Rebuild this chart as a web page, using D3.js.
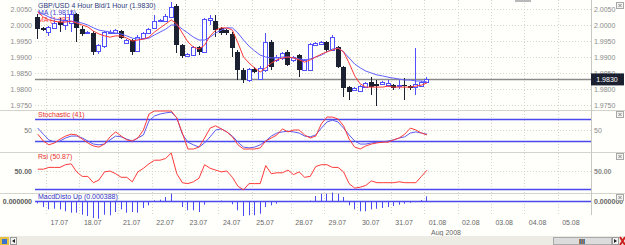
<!DOCTYPE html>
<html>
<head>
<meta charset="utf-8">
<script src="https://cdn.jsdelivr.net/npm/d3@7"></script>
<style>
body { margin: 0; background: #fffffb; }
svg { display: block; font-family: "Liberation Sans", Arial, sans-serif; }
</style>
</head>
<body>
<div id="chart"></div>
<script>
// GBP/USD 4 hour candles, 16.07 16:00 .. 01.08 00:00
const opens = [2.0025,1.9991,1.9978,1.9991,2.0009,2.0000,2.0006,2.0034,1.9987,1.9975,
  1.9975,1.9919,1.9934,1.9975,1.9975,1.9981,1.9944,1.9953,1.9919,1.9959,
  1.9975,1.9991,2.0012,2.0012,2.0025,2.0059,1.9937,1.9903,1.9906,1.9931,
  1.9916,2.0016,2.0012,1.9991,1.9984,1.9972,1.9916,1.9859,1.9828,1.9862,
  1.9831,1.9859,1.9947,1.9891,1.9897,1.9916,1.9891,1.9906,1.9859,1.9859,
  1.9937,1.9941,1.9947,1.9922,1.9931,1.9869,1.9806,1.9797,1.9794,1.9806,
  1.9822,1.9816,1.9816,1.9812,1.9812,1.9809,1.9812,1.9809,1.9806,1.9809,
  1.9822];
const highs = [2.0034,1.9994,1.9997,2.0016,2.0022,2.0034,2.0044,2.0037,1.9997,1.9981,
  1.9981,1.9941,1.9981,1.9984,1.9987,1.9984,1.9956,1.9956,1.9969,1.9978,
  1.9991,2.0031,2.0019,2.0034,2.0072,2.0066,1.9941,1.9912,1.9934,1.9934,
  2.0022,2.0031,2.0031,1.9994,1.9987,1.9978,1.9922,1.9866,1.9866,1.9869,
  1.9872,1.9975,1.9953,1.9906,1.9916,1.9922,1.9903,1.9909,1.9894,1.9944,
  1.9947,1.9950,1.9950,1.9969,1.9934,1.9872,1.9809,1.9806,1.9812,1.9822,
  1.9837,1.9828,1.9825,1.9828,1.9816,1.9828,1.9834,1.9812,1.9928,1.9825,
  1.9837];
const lows = [1.9956,1.9981,1.9966,1.9987,1.9978,1.9984,1.9978,1.9947,1.9966,1.9972,
  1.9906,1.9909,1.9928,1.9972,1.9972,1.9956,1.9941,1.9906,1.9916,1.9956,
  1.9972,1.9987,2.0009,2.0009,2.0022,1.9912,1.9897,1.9900,1.9903,1.9906,
  1.9912,2.0000,1.9962,1.9969,1.9969,1.9900,1.9828,1.9819,1.9822,1.9850,
  1.9828,1.9853,1.9859,1.9884,1.9891,1.9872,1.9884,1.9837,1.9856,1.9856,
  1.9934,1.9937,1.9916,1.9919,1.9866,1.9775,1.9766,1.9794,1.9791,1.9803,
  1.9781,1.9747,1.9812,1.9806,1.9797,1.9800,1.9766,1.9797,1.9781,1.9806,
  1.9819];
const closes = [1.9987,1.9984,1.9994,2.0006,2.0000,2.0016,2.0034,1.9991,1.9972,1.9978,
  1.9916,1.9937,1.9978,1.9978,1.9984,1.9959,1.9953,1.9916,1.9962,1.9975,
  1.9987,2.0012,2.0016,2.0028,2.0056,1.9937,1.9903,1.9909,1.9931,1.9916,
  2.0019,2.0022,1.9984,1.9975,1.9975,1.9928,1.9859,1.9828,1.9862,1.9853,
  1.9866,1.9947,1.9869,1.9900,1.9912,1.9875,1.9900,1.9859,1.9891,1.9941,
  1.9944,1.9947,1.9922,1.9962,1.9869,1.9803,1.9791,1.9803,1.9809,1.9819,
  1.9806,1.9809,1.9822,1.9819,1.9803,1.9812,1.9809,1.9803,1.9816,1.9822,
  1.9830];

const maFast = [2.0041,2.0025,2.0016,2.0012,2.0009,2.0009,2.0012,2.0006,2.0000,1.9994,
  1.9981,1.9972,1.9966,1.9962,1.9966,1.9966,1.9959,1.9950,1.9953,1.9956,
  1.9962,1.9978,1.9991,2.0003,2.0016,2.0003,1.9975,1.9947,1.9931,1.9925,
  1.9937,1.9966,1.9984,1.9991,1.9991,1.9984,1.9944,1.9900,1.9881,1.9866,
  1.9853,1.9866,1.9881,1.9891,1.9897,1.9900,1.9897,1.9891,1.9884,1.9891,
  1.9900,1.9909,1.9916,1.9922,1.9928,1.9916,1.9881,1.9841,1.9816,1.9806,
  1.9806,1.9806,1.9806,1.9809,1.9806,1.9806,1.9806,1.9806,1.9809,1.9812,
  1.9819];
const maSlow = [2.0041,2.0034,2.0025,2.0019,2.0016,2.0012,2.0012,2.0009,2.0006,2.0000,
  1.9991,1.9984,1.9981,1.9978,1.9975,1.9972,1.9966,1.9959,1.9956,1.9956,
  1.9959,1.9969,1.9978,1.9987,2.0000,2.0000,1.9987,1.9975,1.9962,1.9953,
  1.9953,1.9962,1.9975,1.9984,1.9991,1.9991,1.9975,1.9953,1.9934,1.9919,
  1.9906,1.9900,1.9897,1.9897,1.9900,1.9900,1.9897,1.9894,1.9891,1.9894,
  1.9900,1.9906,1.9916,1.9925,1.9928,1.9916,1.9897,1.9878,1.9866,1.9856,
  1.9850,1.9844,1.9841,1.9837,1.9834,1.9831,1.9828,1.9828,1.9825,1.9825,
  1.9822];

const stochK = [39,21,11,16,26,34,39,37,26,16,
  8,5,13,32,45,34,24,21,29,50,
  92,100,100,100,100,82,42,0,0,5,
  29,55,61,53,45,32,11,0,0,0,
  3,21,29,37,53,45,50,50,37,29,
  34,66,84,84,79,61,26,5,0,8,
  13,16,18,18,24,29,39,55,50,42,
  37];
const stochD = [55,39,24,18,21,29,34,34,29,21,
  13,11,13,24,34,32,26,21,29,37,
  74,87,92,95,97,82,39,18,11,5,
  16,32,50,53,45,34,18,5,3,5,
  11,21,34,42,45,47,45,42,34,32,
  37,55,71,76,71,55,37,21,13,13,
  16,18,18,21,24,29,32,42,45,42,
  39];

const rsi = [52,52,54,54,54,57,58,49,44,44,
  37,40,49,50,47,43,43,38,49,53,
  58,62,62,64,70,47,37,36,38,42,
  57,53,51,49,50,43,33,29,36,36,
  36,56,47,48,48,51,46,49,43,44,
  55,57,57,54,54,49,36,31,32,34,
  39,37,37,37,37,38,37,37,37,44,
  50.87];

const macdHist = [-0.00020,-0.00050,-0.00069,-0.00064,-0.00069,-0.00085,-0.00097,-0.00097,-0.00113,-0.00124,
  -0.00140,-0.00146,-0.00113,-0.00118,-0.00091,-0.00069,-0.00097,-0.00091,-0.00097,-0.00058,
  -0.00036,0.00005,0.00011,0.00033,0.00060,-0.00005,-0.00050,-0.00077,-0.00077,-0.00091,
  -0.00031,-0.00008,-0.00003,0.00003,-0.00003,-0.00027,-0.00077,-0.00124,-0.00118,-0.00118,
  -0.00105,-0.00050,-0.00036,-0.00022,-0.00008,-0.00003,-0.00003,-0.00008,-0.00003,0.00003,
  0.00041,0.00060,0.00060,0.00069,0.00060,0.00033,-0.00036,-0.00069,-0.00085,-0.00085,
  -0.00069,-0.00064,-0.00058,-0.00050,-0.00041,-0.00031,-0.00022,-0.00014,-0.00003,0.00008,
  0.000388];

const dayLabels = ["17.07","18.07","21.07","22.07","23.07","24.07","25.07","28.07","29.07","30.07","31.07","01.08","02.08","03.08","04.08","05.08"];
const dayStarts = [2,8,15,21,27,33,39,46,52,58,64,70,76,82,88,94];
const priceTicks = [1.9750,1.9800,1.9850,1.9900,1.9950,2.0000,2.0050];
const stochLevels = [20,80];
const lastPrice = 1.9830;

const width = 625, height = 245;
const left = 35, right = 591;
const GRID = "#d6d6c8", RED = "#ff3a3a", BLUE = "#4a4aee", BEAR = "#1b2130";

let svg = d3.select("#chart").append("svg").attr("width", width).attr("height", height);
svg.append("rect").attr("width", width).attr("height", height).attr("fill", "#fffffb");

let x = d3.scaleLinear().domain([0, 100]).range([left, right]);
let yPrice = d3.scaleLinear().domain([1.9750, 2.0050]).range([105, 9]);
let yStoch = d3.scaleLinear().domain([0, 100]).range([149, 111]);
let yRsi = d3.scaleLinear().domain([30, 50]).range([189, 171]);
let yMacd = d3.scaleLinear().domain([-0.001, 0.001]).range([213.1, 188.9]);

const cx = i => Math.floor(x(i + 0.5)) + 0.5;
const crisp = v => Math.round(v) + 0.5;

// dotted grid
let grid = svg.append("g").attr("stroke", GRID).attr("stroke-dasharray", "1,2");
grid.selectAll("line.h").data(priceTicks).join("line")
  .attr("x1", left).attr("x2", right)
  .attr("y1", d => crisp(yPrice(d))).attr("y2", d => crisp(yPrice(d)));
grid.append("line").attr("x1", left).attr("x2", right).attr("y1", crisp(yStoch(50))).attr("y2", crisp(yStoch(50)));
grid.append("line").attr("x1", left).attr("x2", right).attr("y1", crisp(yRsi(50))).attr("y2", crisp(yRsi(50)));
grid.selectAll("line.v").data(dayStarts).join("line")
  .attr("x1", d => crisp(x(d))).attr("x2", d => crisp(x(d)))
  .attr("y1", 0).attr("y2", 215);

// panel separators and right axis line
svg.selectAll("line.sep").data([110, 152, 193]).join("line")
  .attr("x1", 0).attr("x2", width).attr("y1", d => d + 0.5).attr("y2", d => d + 0.5)
  .attr("stroke", "#d4d4cc");
svg.append("line").attr("x1", right + 0.5).attr("x2", right + 0.5).attr("y1", 0).attr("y2", 215).attr("stroke", "#c8c8c0");

// panel captions
svg.append("text").attr("x", 38).attr("y", 8).attr("font-size", 7).attr("fill", "#2c3a80").text("GBP/USD 4 Hour Bid/1 Hour (1.9830)");
svg.append("text").attr("x", 38).attr("y", 15).attr("font-size", 7).attr("fill", "#4444cc").text("MA (1.9815)");
svg.append("text").attr("x", 38).attr("y", 22).attr("font-size", 7).attr("fill", RED).text("MA (1.9821)");
svg.append("text").attr("x", 38).attr("y", 117).attr("font-size", 7).attr("fill", "#e83030").text("Stochastic (41)");
svg.append("text").attr("x", 38).attr("y", 159).attr("font-size", 7).attr("fill", "#e83030").text("Rsi (50.87)");
svg.append("text").attr("x", 38).attr("y", 199).attr("font-size", 7).attr("fill", "#3030c8").text("MacdDisto Up (0.000388)");

// last price line
svg.append("line").attr("x1", left).attr("x2", right)
  .attr("y1", yPrice(lastPrice)).attr("y2", yPrice(lastPrice))
  .attr("stroke", "#8a8a8a").attr("stroke-width", 1.5);

// candles
let candles = d3.range(opens.length).map(i => ({i: i, o: opens[i], h: highs[i], l: lows[i], c: closes[i], up: closes[i] >= opens[i]}));
let cg = svg.append("g");
cg.selectAll("line").data(candles).join("line")
  .attr("x1", d => cx(d.i)).attr("x2", d => cx(d.i))
  .attr("y1", d => Math.round(yPrice(d.h))).attr("y2", d => Math.round(yPrice(d.l)))
  .attr("stroke", d => d.up ? "#5050ff" : BEAR);
cg.selectAll("rect").data(candles).join("rect")
  .attr("x", d => d.up ? cx(d.i) - 2 : cx(d.i) - 2.5)
  .attr("width", d => d.up ? 4 : 5)
  .attr("y", d => d.up ? crisp(yPrice(d.c)) : Math.round(yPrice(d.o)))
  .attr("height", d => Math.max(1, Math.round(Math.abs(yPrice(d.o) - yPrice(d.c)))))
  .attr("fill", d => d.up ? "#ffffff" : BEAR)
  .attr("stroke", d => d.up ? "#5050ff" : "none");

let maLine = d3.line().x((d, i) => x(i + 0.5)).y(d => yPrice(d));
svg.append("path").attr("d", maLine(maSlow)).attr("fill", "none").attr("stroke", "#6060ff").attr("stroke-width", 1);
svg.append("path").attr("d", maLine(maFast)).attr("fill", "none").attr("stroke", RED).attr("stroke-width", 1);

// stochastic
svg.selectAll("line.lvl").data(stochLevels).join("line")
  .attr("x1", left).attr("x2", right).attr("y1", d => crisp(yStoch(d))).attr("y2", d => crisp(yStoch(d)))
  .attr("stroke", BLUE).attr("stroke-width", 1.5);
let stLine = d3.line().x((d, i) => x(i + 0.5)).y(d => yStoch(d));
svg.append("path").attr("d", stLine(stochD)).attr("fill", "none").attr("stroke", "#5a5af0");
svg.append("path").attr("d", stLine(stochK)).attr("fill", "none").attr("stroke", RED);

// rsi
svg.append("line").attr("x1", left).attr("x2", right).attr("y1", crisp(yRsi(30))).attr("y2", crisp(yRsi(30)))
  .attr("stroke", BLUE).attr("stroke-width", 1.5);
let rsiLine = d3.line().x((d, i) => x(i + 0.5)).y(d => yRsi(d));
svg.append("path").attr("d", rsiLine(rsi)).attr("fill", "none").attr("stroke", RED);

// macd histogram
svg.append("line").attr("x1", left).attr("x2", right).attr("y1", crisp(yMacd(0))).attr("y2", crisp(yMacd(0)))
  .attr("stroke", BLUE).attr("stroke-width", 1.5);
svg.append("g").selectAll("line").data(macdHist).join("line")
  .attr("x1", (d, i) => cx(i)).attr("x2", (d, i) => cx(i))
  .attr("y1", yMacd(0)).attr("y2", d => yMacd(d))
  .attr("stroke", "#4a4af5");

// axes
function styleAxis(g, color, weight) {
  g.select(".domain").remove();
  g.selectAll("text").attr("font-size", 7).attr("fill", color).attr("font-weight", weight || "normal")
    .attr("font-family", "'Liberation Sans', Arial, sans-serif");
}
svg.append("g").attr("transform", `translate(${left - 1},0)`)
  .call(d3.axisLeft(yPrice).tickValues(priceTicks).tickFormat(d3.format(".4f")).tickSize(0).tickPadding(2))
  .call(g => styleAxis(g, "#8a8a8a"));
svg.append("g").attr("transform", `translate(${right + 1},0)`)
  .call(d3.axisRight(yPrice).tickValues(priceTicks).tickFormat(d3.format(".4f")).tickSize(0).tickPadding(2))
  .call(g => styleAxis(g, "#8a8a8a"));
svg.append("g").attr("transform", `translate(${left - 1},0)`)
  .call(d3.axisLeft(yStoch).tickValues([50]).tickFormat(d3.format("d")).tickSize(0).tickPadding(2))
  .call(g => styleAxis(g, "#777"));
svg.append("g").attr("transform", `translate(${right + 1},0)`)
  .call(d3.axisRight(yStoch).tickValues([50]).tickFormat(d3.format("d")).tickSize(0).tickPadding(2))
  .call(g => styleAxis(g, "#8a8a8a"));
svg.append("g").attr("transform", `translate(${left - 1},0)`)
  .call(d3.axisLeft(yRsi).tickValues([50]).tickFormat(d3.format(".2f")).tickSize(0).tickPadding(2))
  .call(g => styleAxis(g, "#666", "bold"));
svg.append("g").attr("transform", `translate(${right + 1},0)`)
  .call(d3.axisRight(yRsi).tickValues([50]).tickFormat(d3.format(".2f")).tickSize(0).tickPadding(2))
  .call(g => styleAxis(g, "#8a8a8a", "bold"));
svg.append("g").attr("transform", `translate(${left - 1},0)`)
  .call(d3.axisLeft(yMacd).tickValues([0]).tickFormat(d3.format(".6f")).tickSize(0).tickPadding(2))
  .call(g => styleAxis(g, "#555", "bold"));
svg.append("g").attr("transform", `translate(${right + 1},0)`)
  .call(d3.axisRight(yMacd).tickValues([0]).tickFormat(d3.format(".6f")).tickSize(0).tickPadding(2))
  .call(g => styleAxis(g, "#666", "bold"));

svg.append("g").attr("transform", "translate(0,220)")
  .call(d3.axisBottom(x).tickValues(dayStarts).tickFormat((d, i) => dayLabels[i]).tickSize(0).tickPadding(0))
  .call(g => styleAxis(g, "#666"))
  .selectAll("text").attr("text-anchor", "start").attr("dx", 4);
svg.append("text").attr("x", 431).attr("y", 235).attr("font-size", 7).attr("fill", "#666").text("Aug 2008");

// current price tag
svg.append("rect").attr("x", right).attr("y", yPrice(lastPrice) - 6).attr("width", 33).attr("height", 12).attr("fill", BEAR);
svg.append("text").attr("x", right + 16).attr("y", yPrice(lastPrice) + 2.5).attr("text-anchor", "middle")
  .attr("font-size", 7).attr("fill", "#ffffff").text("1.9830");

// panel close boxes
let boxes = svg.append("g").selectAll("g").data([2, 111, 153, 194]).join("g").attr("transform", d => `translate(616.5,${d + 0.5})`);
boxes.append("rect").attr("width", 7).attr("height", 6).attr("fill", "#f2f2ee").attr("stroke", "#a8a8a8");
boxes.append("path").attr("d", "M2,1.5L5,4.5M5,1.5L2,4.5").attr("stroke", "#888");
svg.append("rect").attr("x", 515).attr("y", 0).attr("width", 16).attr("height", 2).attr("fill", "#b8b8b8");

// bottom scroll bar
svg.append("rect").attr("x", 0).attr("y", 236).attr("width", width).attr("height", 9).attr("fill", "#ecece4");
svg.append("rect").attr("x", 0).attr("y", 237).attr("width", 9).attr("height", 8).attr("fill", "#e8c040");
svg.append("rect").attr("x", 2).attr("y", 239).attr("width", 5).attr("height", 5).attr("fill", "#3a70d0");
svg.append("rect").attr("x", 10.5).attr("y", 237.5).attr("width", 6).attr("height", 7).attr("fill", "#f4f4f4").attr("stroke", "#999");
svg.append("path").attr("d", "M12,241L15,239L15,243Z").attr("fill", "#222");
svg.append("rect").attr("x", 553.5).attr("y", 237.5).attr("width", 58).attr("height", 7).attr("fill", "#dcdcdc").attr("stroke", "#aaa");
svg.append("text").attr("x", 582).attr("y", 244).attr("text-anchor", "middle").attr("font-size", 7).attr("font-weight", "bold").attr("fill", "#222").text("III");
svg.append("rect").attr("x", 612.5).attr("y", 237.5).attr("width", 6).attr("height", 7).attr("fill", "#f4f4f4").attr("stroke", "#999");
svg.append("path").attr("d", "M614,239L617,241L614,243Z").attr("fill", "#222");
svg.append("path").attr("d", "M620,237L625,245M625,237L620,245").attr("stroke", "#d02020").attr("stroke-width", 2);
</script>
</body>
</html>
